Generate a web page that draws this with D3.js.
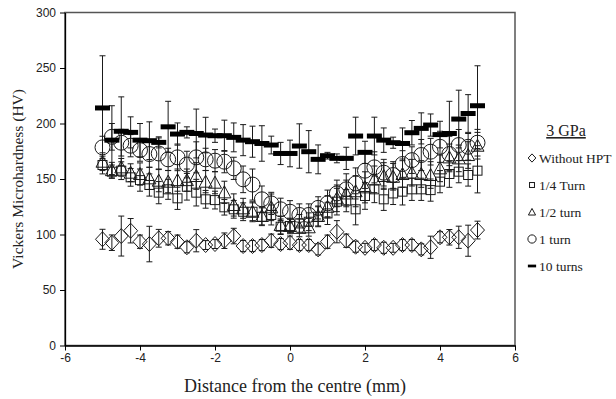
<!DOCTYPE html>
<html>
<head>
<meta charset="utf-8">
<script src="https://cdn.jsdelivr.net/npm/d3@7"></script>
<style>
  body { margin: 0; background: #fff; }
  svg { display: block; }
</style>
</head>
<body>
<div id="chart"></div>
<script>
// distance from the centre (mm)
const positions = [-5, -4.75, -4.5, -4.25, -4, -3.75, -3.5, -3.25, -3, -2.75, -2.5, -2.25, -2, -1.75, -1.5, -1.25, -1, -0.75, -0.5, -0.25, 0,
  0.25, 0.5, 0.75, 1, 1.25, 1.5, 1.75, 2, 2.25, 2.5, 2.75, 3, 3.25, 3.5, 3.75, 4, 4.25, 4.5, 4.75, 5];

const withoutHpt = [95.7, 92.6, 98.6, 103.4, 93.5, 91.4, 96.6, 96.6, 93.5, 88.5, 94.4, 90.5, 91.4, 94.4, 98.6, 89.6, 89.6, 90.5, 94.4, 91.4, 92.6,
  90.5, 90.5, 86.6, 93.5, 102.5, 94.4, 89, 88, 90.5, 88, 88, 90.5, 90.5, 86.6, 88.5, 97.5, 97.5, 97.5, 94.4, 104];
const withoutHptErr = [9, 7, 18, 11, 6, 16, 8, 6, 6, 5, 10, 4, 4, 7, 7, 5, 5, 5, 6, 5, 6,
  5, 5, 5, 6, 10, 6, 5, 4, 5, 5, 4, 5, 5, 5, 10, 5, 7, 10, 14, 8];

const quarterTurn = [162.6, 156.6, 157.5, 151.5, 149, 144.6, 137.7, 140.7, 132.6, 143, 137.7, 131.7, 131, 124.5, 122.7, 120.5, 120.5, 116, 117.6, 107, 107.7,
  110, 111.5, 116, 119, 129.6, 130.5, 122.7, 134.7, 140.7, 131.7, 137, 138.6, 140.7, 140.7, 140, 147.6, 154.5, 156.6, 153.6, 157.5];
const quarterTurnErr = [8, 6, 8, 8, 10, 10, 10, 9, 10, 12, 12, 8, 8, 7, 8, 8, 8, 8, 9, 7, 6,
  8, 8, 9, 10, 12, 10, 14, 12, 12, 10, 10, 12, 10, 10, 10, 10, 12, 10, 10, 20];

const halfTurn = [165.6, 158, 160.5, 155.7, 154.5, 150.6, 148.5, 147.6, 149, 149, 152.7, 147.6, 146.7, 138, 126.6, 123.6, 120.5, 116.7, 124.5, 108.6, 107.7,
  106, 106.5, 116.7, 125, 132.6, 137, 139, 142.5, 149.7, 152.7, 152, 154.5, 155.7, 154.5, 153.6, 159.6, 169.5, 168.6, 171.6, 180];
const halfTurnErr = [8, 7, 8, 8, 10, 10, 10, 10, 10, 10, 12, 10, 10, 10, 10, 9, 9, 8, 12, 8, 7,
  8, 8, 9, 10, 12, 12, 14, 14, 12, 12, 12, 12, 12, 12, 12, 12, 12, 12, 12, 12];

const oneTurn = [178.5, 188, 182.7, 180, 176, 172.5, 173, 167.7, 169.5, 163, 169.5, 167.7, 166.5, 165.6, 159.6, 149.7, 145, 131.7, 128, 122.7, 120.5,
  117.6, 117.6, 124, 128, 137, 140.7, 146, 157.5, 160.5, 155.7, 153.6, 163.5, 167, 171.6, 174.6, 179, 172.5, 180.6, 179, 182.7];
const oneTurnErr = [10, 12, 12, 10, 10, 12, 14, 10, 12, 12, 14, 10, 10, 10, 10, 12, 14, 12, 10, 10, 10,
  10, 10, 10, 12, 12, 14, 14, 16, 14, 12, 12, 12, 12, 14, 12, 14, 16, 14, 12, 12];

const tenTurns = [214, 185, 193, 192, 185, 184.5, 183, 197, 190.5, 192, 191, 189.6, 189, 189, 187.5, 185, 183.6, 182, 180.6, 173, 173,
  179.7, 174.6, 167.7, 171, 168.6, 168.6, 188.7, 174, 188.7, 185, 182.7, 182, 191.7, 195.6, 198.6, 190, 191, 204, 209, 216];
const tenTurnsErr = [47, 31, 31, 14, 15, 17, 5, 23, 10, 5, 22, 16, 6, 14, 13, 14, 14, 16, 8, 10, 12,
  20, 19, 13, 3, 4, 10, 17, 10, 17, 11, 5, 14, 11, 14, 10, 12, 29, 26, 17, 36];

const seriesNames = ['Without HPT', '1/4 Turn', '1/2 turn', '1 turn', '10 turns'];
const xTicks = [-6, -4, -2, 0, 2, 4, 6];
const yTicks = [0, 50, 100, 150, 200, 250, 300];

const series = [
  { name: seriesNames[0], shape: 'diamond', values: withoutHpt, err: withoutHptErr },
  { name: seriesNames[1], shape: 'square', values: quarterTurn, err: quarterTurnErr },
  { name: seriesNames[2], shape: 'triangle', values: halfTurn, err: halfTurnErr },
  { name: seriesNames[3], shape: 'circle', values: oneTurn, err: oneTurnErr },
  { name: seriesNames[4], shape: 'dash', values: tenTurns, err: tenTurnsErr }
];

const width = 616, height = 399;
const ink = '#1a1a1a';
const svg = d3.select('#chart').append('svg')
  .attr('width', width)
  .attr('height', height);

const x = d3.scaleLinear().domain([-6, 6]).range([65, 515]);
const y = d3.scaleLinear().domain([0, 300]).range([345.5, 12.5]);

// frame (grey top/right border)
svg.append('rect')
  .attr('x', x(-6)).attr('y', y(300))
  .attr('width', x(6) - x(-6)).attr('height', y(0) - y(300))
  .attr('fill', 'none').attr('stroke', '#555').attr('stroke-width', 1.5);

// shape drawing helper
function drawMarker(g, shape, cx, cy, scale) {
  const s = scale || 1;
  if (shape === 'circle') {
    g.append('circle').attr('cx', cx).attr('cy', cy).attr('r', 7.5 * s)
      .attr('fill', 'none').attr('stroke', ink).attr('stroke-width', 1);
  } else if (shape === 'square') {
    const h = 4.5 * s;
    g.append('rect').attr('x', cx - h).attr('y', cy - h).attr('width', 2 * h).attr('height', 2 * h)
      .attr('fill', 'none').attr('stroke', ink).attr('stroke-width', 1);
  } else if (shape === 'triangle') {
    const w = 6.5 * s, h = 6.5 * s;
    g.append('path').attr('d', `M${cx},${cy - h}L${cx + w},${cy + h * 0.85}L${cx - w},${cy + h * 0.85}Z`)
      .attr('fill', 'none').attr('stroke', ink).attr('stroke-width', 1);
  } else if (shape === 'diamond') {
    const w = 7 * s, h = 7.5 * s;
    g.append('path').attr('d', `M${cx},${cy - h}L${cx + w},${cy}L${cx},${cy + h}L${cx - w},${cy}Z`)
      .attr('fill', 'none').attr('stroke', ink).attr('stroke-width', 1);
  } else if (shape === 'dash') {
    const w = 7.5 * s, h = 2.5 * s;
    g.append('rect').attr('x', cx - w).attr('y', cy - h).attr('width', 2 * w).attr('height', 2 * h)
      .attr('fill', '#000');
  }
}

// series: error bars then markers
series.forEach(sr => {
  const g = svg.append('g');
  sr.values.forEach((v, i) => {
    const px = x(positions[i]);
    const top = y(v + sr.err[i]), bot = y(Math.max(0, v - sr.err[i]));
    g.append('line').attr('x1', px).attr('x2', px).attr('y1', top).attr('y2', bot)
      .attr('stroke', ink).attr('stroke-width', 1);
    [top, bot].forEach(yy => {
      g.append('line').attr('x1', px - 3).attr('x2', px + 3).attr('y1', yy).attr('y2', yy)
        .attr('stroke', ink).attr('stroke-width', 1);
    });
  });
  sr.values.forEach((v, i) => drawMarker(g, sr.shape, x(positions[i]), y(v)));
});

// axes
const xAxis = svg.append('g')
  .attr('transform', `translate(0,${y(0)})`)
  .call(d3.axisBottom(x).tickValues(xTicks).tickFormat(d => String(d))
    .tickSize(5).tickSizeOuter(0).tickPadding(3));
const yAxis = svg.append('g')
  .attr('transform', `translate(${x(-6)},0)`)
  .call(d3.axisLeft(y).tickValues(yTicks).tickFormat(d => String(d))
    .tickSize(5).tickSizeOuter(0).tickPadding(4));
[xAxis, yAxis].forEach(a => {
  a.select('.domain').attr('stroke', '#000').attr('stroke-width', 1.3);
  a.selectAll('.tick line').attr('stroke', '#000');
  a.selectAll('.tick text')
    .attr('font-family', '"Liberation Sans", Arial, sans-serif')
    .attr('font-size', 12).attr('fill', '#222');
});

// axis titles
svg.append('text')
  .attr('x', 295).attr('y', 392)
  .attr('text-anchor', 'middle')
  .attr('font-family', '"Liberation Serif", "Times New Roman", serif')
  .attr('font-size', 18).attr('fill', '#222')
  .text('Distance from the centre (mm)');

svg.append('text')
  .attr('transform', `translate(23,${(y(0) + y(300)) / 2}) rotate(-90)`)
  .attr('text-anchor', 'middle')
  .attr('font-family', '"Liberation Serif", "Times New Roman", serif')
  .attr('font-size', 15.5).attr('fill', '#222')
  .text('Vickers Microhardness (HV)');

// legend
const legend = svg.append('g');
legend.append('text')
  .attr('x', 566).attr('y', 136)
  .attr('text-anchor', 'middle')
  .attr('font-family', '"Liberation Serif", "Times New Roman", serif')
  .attr('font-size', 16).attr('fill', '#222')
  .attr('text-decoration', 'underline')
  .text('3 GPa');

series.forEach((sr, i) => {
  const cy = 158 + i * 27;
  drawMarker(legend, sr.shape, 532, cy, 0.55);
  legend.append('text')
    .attr('x', 539).attr('y', cy + 4.5)
    .attr('font-family', '"Liberation Serif", "Times New Roman", serif')
    .attr('font-size', 13.5).attr('fill', '#222')
    .text(sr.name);
});
</script>
</body>
</html>
